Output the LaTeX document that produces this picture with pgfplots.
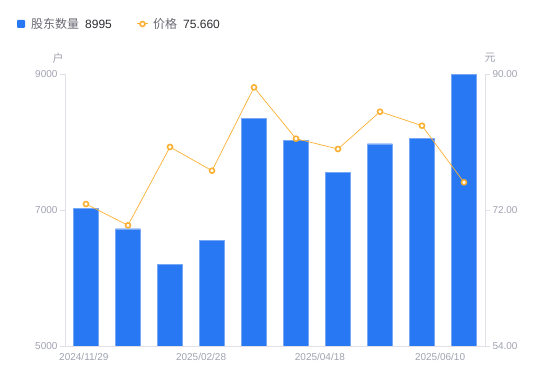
\documentclass[border=0pt]{standalone}
\usepackage{pgfplots}
\pgfplotsset{compat=1.18}
\usepackage{fontspec}
\setmainfont{Liberation Sans}
\newfontfamily\cjk{Noto Sans CJK SC}
\definecolor{barblue}{RGB}{39,120,242}
\definecolor{baredge}{RGB}{120,168,245}
\definecolor{lineorange}{RGB}{250,176,50}
\definecolor{tickgray}{RGB}{160,162,176}
\definecolor{axgray}{RGB}{224,224,230}
\definecolor{legname}{RGB}{105,105,115}
\definecolor{legval}{RGB}{45,45,50}
\begin{document}
\begin{tikzpicture}[x=1pt,y=1pt]
\path (0,0) rectangle (550,381);
\begin{axis}[
  at={(65pt,35pt)}, anchor=south west,
  scale only axis, width=420pt, height=272pt,
  xmin=-0.5, xmax=9.5, ymin=5000, ymax=9000,
  ytick={5000,7000,9000},
  xtick={-0.05,2.74,5.57,8.43},
  xticklabels={2024/11/29,2025/02/28,2025/04/18,2025/06/10},
  axis x line*=bottom, axis y line*=left,
  axis line style={draw=axgray, line width=0.8pt},
  tick align=outside, major tick length=5pt,
  xtick style={draw=none}, ytick style={draw=axgray, line width=0.8pt},
  xticklabel style={font=\fontsize{10}{12}\selectfont, text=tickgray, yshift=1pt},
  yticklabel style={font=\fontsize{10}{12}\selectfont, text=tickgray, xshift=1pt},
  scaled ticks=false,
  /pgf/number format/1000 sep={},
  /pgf/number format/assume math mode=true,
  clip=true,
]
\addplot[ybar, bar width=25pt, fill=barblue, draw=baredge, line width=0.4pt] coordinates {
(0,7020) (1,6725) (2,6196) (3,6554) (4,8343) (5,8025) (6,7549) (7,7975) (8,8054) (9,8995)
};
\end{axis}
\begin{axis}[
  at={(65pt,35pt)}, anchor=south west,
  scale only axis, width=420pt, height=272pt,
  xmin=-0.5, xmax=9.5, ymin=54, ymax=90,
  ytick={54,72,90},
  axis x line=none, axis y line*=right,
  axis line style={draw=axgray, line width=0.8pt},
  tick align=outside, major tick length=5pt,
  ytick style={draw=axgray, line width=0.8pt},
  yticklabel style={font=\fontsize{10}{12}\selectfont, text=tickgray, xshift=-1pt},
  /pgf/number format/.cd, fixed, fixed zerofill, precision=2, assume math mode=true,
]
\addplot[lineorange, line width=0.7pt, mark=*, mark size=2.5pt,
  mark options={fill=white, draw=lineorange, line width=1.6pt}] coordinates {
(0,72.79) (1,69.97) (2,80.34) (3,77.20) (4,88.23) (5,81.44) (6,80.07) (7,85.01) (8,83.16) (9,75.66)
};
\end{axis}
% axis unit labels
\node[font=\cjk\fontsize{11}{13}\selectfont, text=tickgray] at (58,323) {户};
\node[font=\cjk\fontsize{11}{13}\selectfont, text=tickgray] at (490,323) {元};
% legend
\fill[barblue, rounded corners=1pt] (17,353) rectangle (25,361);
\node[anchor=west, inner sep=0pt, font=\cjk\fontsize{12}{14}\selectfont, text=legname] at (31,357) {股东数量};
\node[anchor=west, inner sep=0pt, font=\fontsize{12}{14}\selectfont, text=legval] at (85,357) {8995};
\draw[lineorange, line width=1pt] (137,357) -- (148,357);
\draw[lineorange, line width=1.6pt, fill=white] (142.5,357) circle (2.5);
\node[anchor=west, inner sep=0pt, font=\cjk\fontsize{12}{14}\selectfont, text=legname] at (153,357) {价格};
\node[anchor=west, inner sep=0pt, font=\fontsize{12}{14}\selectfont, text=legval] at (183,357) {75.660};
\end{tikzpicture}
\end{document}
